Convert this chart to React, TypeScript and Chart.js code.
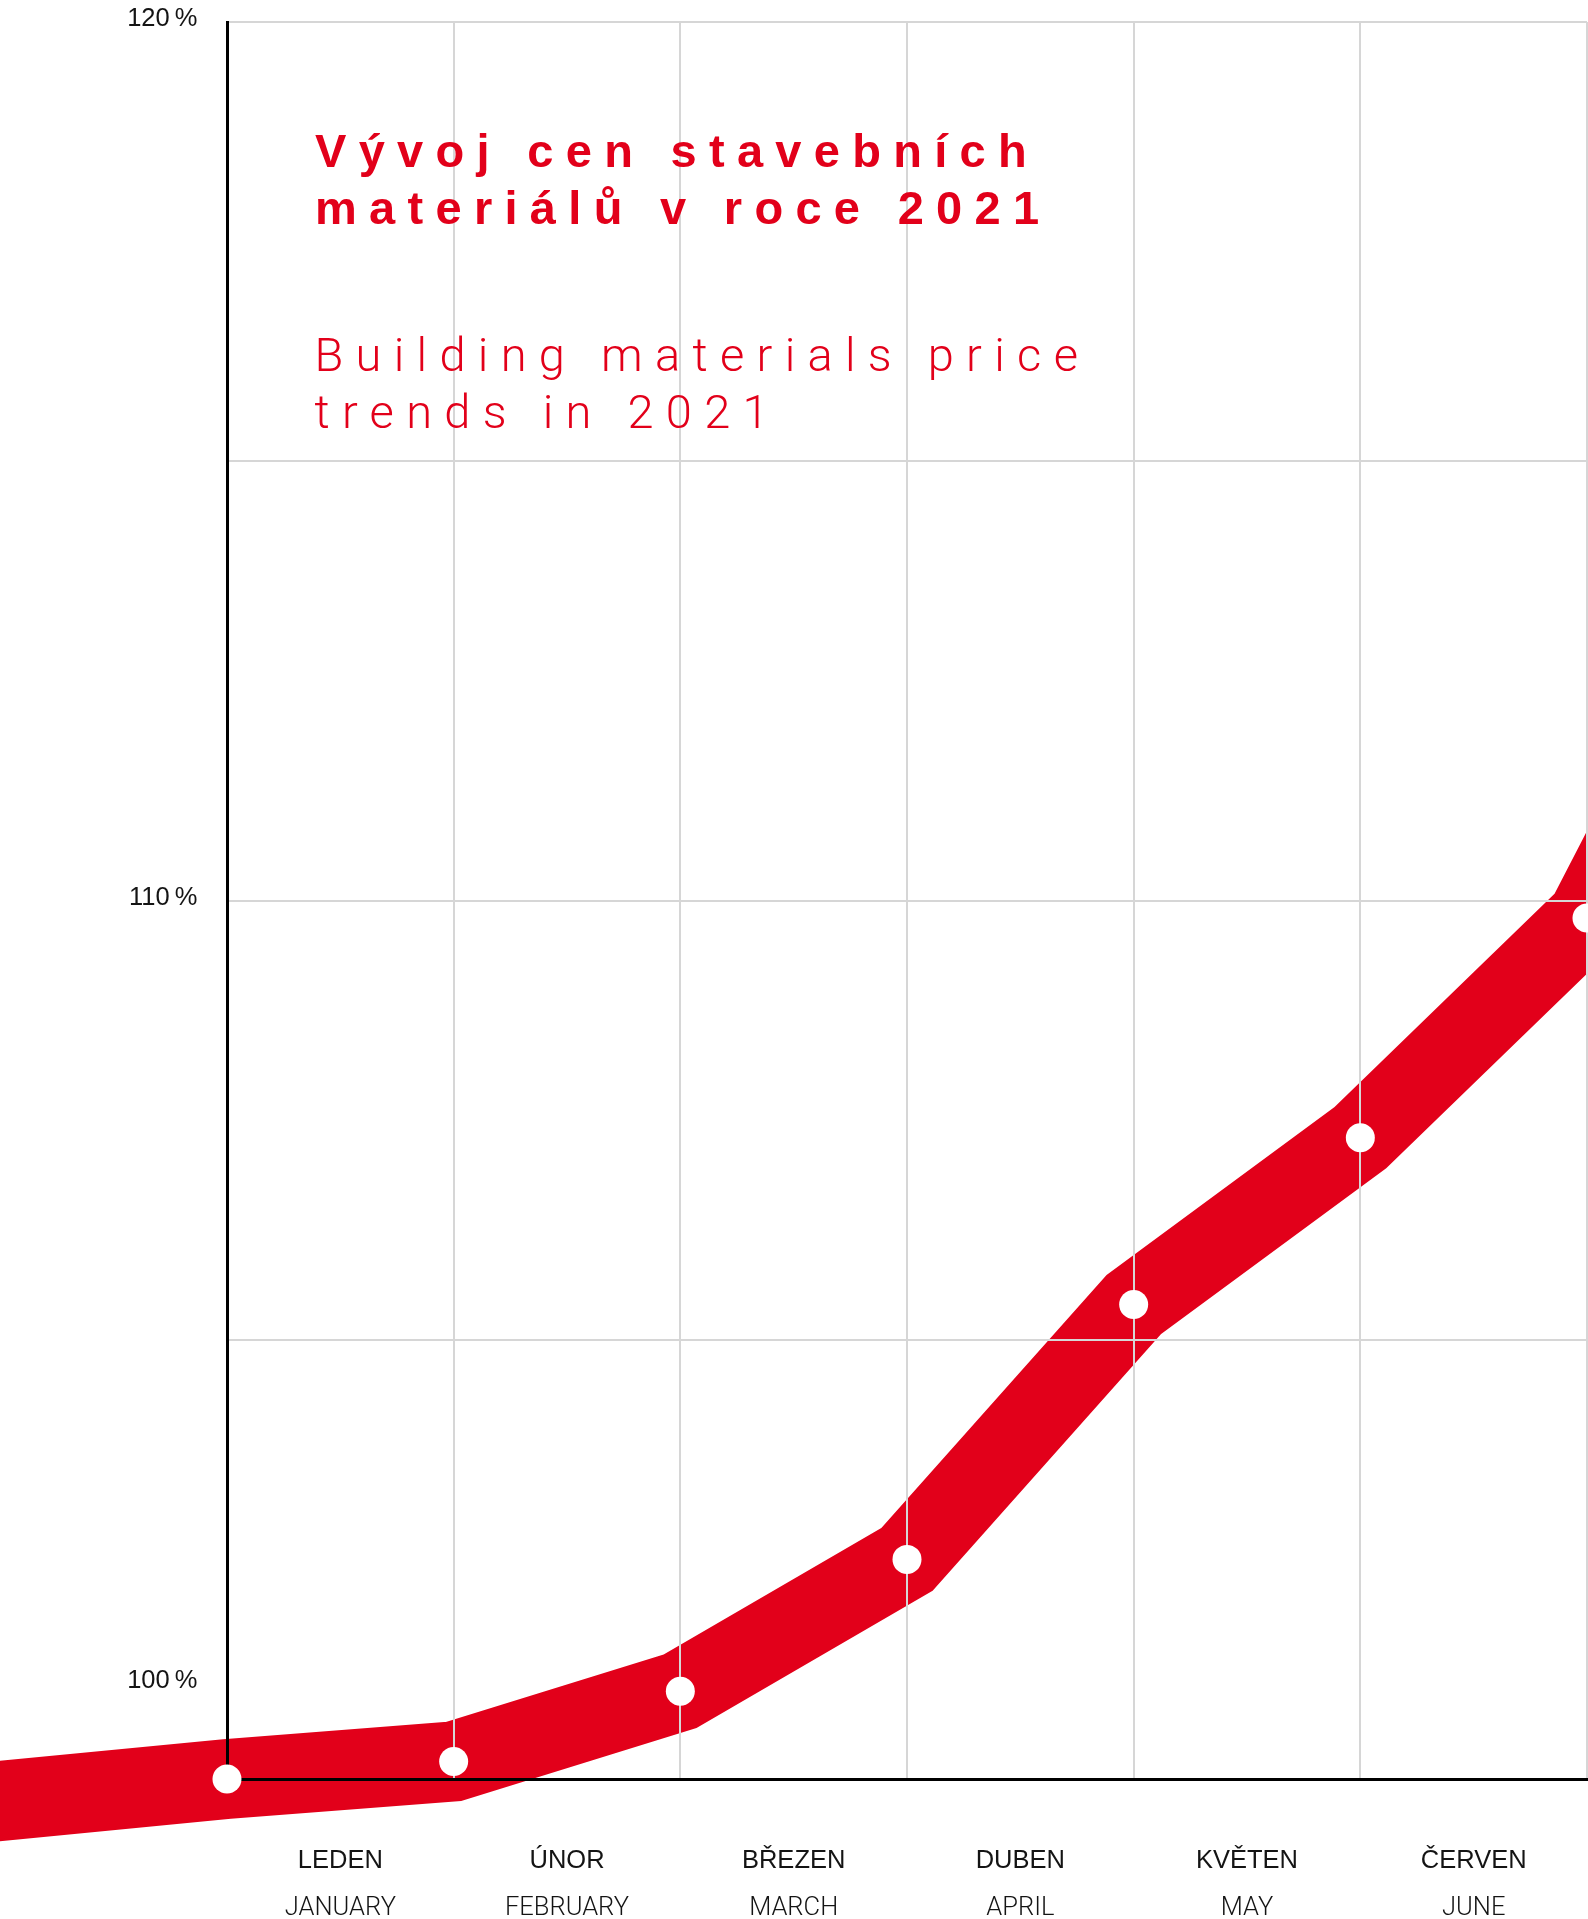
import React, { useEffect, useRef } from 'react';
import { Chart, registerables } from 'chart.js';

Chart.register(...registerables);

// ---- data -------------------------------------------------------------
// month index (Jan 2021 = 0); Dec 2020 and Aug 2021 continue the band off the page
const SERIES_X = [-1, 0, 1, 2, 3, 4, 5, 6, 7];
const SERIES_Y = [99.75, 100.0, 100.2, 101.0, 102.5, 105.4, 107.3, 109.8, 114.8];

// white markers (Jan … Jul)
const DOT_X = [0, 1, 2, 3, 4, 5, 6];
const DOT_Y = [100.0, 100.2, 101.0, 102.5, 105.4, 107.3, 109.8];

const MONTHS_CZ = ['LEDEN', 'ÚNOR', 'BŘEZEN', 'DUBEN', 'KVĚTEN', 'ČERVEN'];
const MONTHS_EN = ['JANUARY', 'FEBRUARY', 'MARCH', 'APRIL', 'MAY', 'JUNE'];

const Y_MIN = 100;
const Y_MAX = 120;
const Y_STEP = 5;
const Y_LABEL_VALUES = [120, 110, 100];

const TITLE_CZ = ['Vývoj cen stavebních', 'materiálů v roce 2021'];
const TITLE_EN = ['Building materials price', 'trends in 2021'];

// ---- styles -----------------------------------------------------------
const RED = '#e2001a';
const GRID = '#d6d6d6';
const INK = '#141414';
const SANS = '"Liberation Sans", Arial, Helvetica, sans-serif';
const LIGHT = 'Roboto, "Liberation Sans", Arial, sans-serif';

const noSidePadding = (s: any) => {
  s.paddingLeft = 0;
  s.paddingRight = 0;
};

const overlayPlugin = {
  id: 'overlay',
  afterDraw(chart: any) {
    const { ctx, chartArea, scales } = chart;
    const xs = scales.x;
    const ys = scales.y;
    ctx.save();
    // y-axis labels (the 100 % label is lifted above the band)
    ctx.font = `25.5px ${SANS}`;
    ctx.fillStyle = INK;
    ctx.textAlign = 'right';
    ctx.textBaseline = 'alphabetic';
    Y_LABEL_VALUES.forEach((v) => {
      const shift = v === Y_MIN ? -91 : 4;
      ctx.fillText(`${v}\u2009%`, chartArea.left - 29.5, ys.getPixelForValue(v) + shift);
    });
    // white markers on top of band and axes
    ctx.fillStyle = '#ffffff';
    DOT_X.forEach((xv, i) => {
      ctx.beginPath();
      ctx.arc(xs.getPixelForValue(xv), ys.getPixelForValue(DOT_Y[i]), 14.5, 0, Math.PI * 2);
      ctx.fill();
    });
    ctx.restore();
  },
};

export default function App() {
  const ref = useRef<HTMLCanvasElement>(null);

  useEffect(() => {
    document.body.style.margin = '0';
    document.body.style.overflow = 'hidden';
    const canvas = ref.current;
    if (!canvas) return;
    const chart = new Chart(canvas, {
      type: 'line',
      data: {
        datasets: [
          {
            data: SERIES_X.map((x, i) => ({ x, y: SERIES_Y[i] })),
            borderColor: RED,
            backgroundColor: RED,
            borderWidth: 80,
            borderJoinStyle: 'miter',
            borderCapStyle: 'square',
            pointRadius: 0,
            pointHoverRadius: 0,
            tension: 0,
            fill: false,
            clip: false as any,
            xAxisID: 'x',
            yAxisID: 'y',
          } as any,
        ],
      },
      options: {
        animation: false,
        responsive: false,
        events: [],
        layout: { padding: { top: 22, right: 1, left: 0, bottom: 0 } },
        plugins: {
          legend: { display: false },
          tooltip: { enabled: false },
          title: { display: false },
        },
        scales: {
          x: {
            type: 'linear',
            axis: 'x',
            position: 'bottom',
            weight: 0,
            afterDataLimits: (s: any) => {
              s.min = 0;
              s.max = 6;
            },
            ticks: { display: false, stepSize: 1 },
            grid: { color: GRID, lineWidth: 2, drawTicks: false, z: 1 },
            border: { display: true, color: '#000000', width: 3, z: 2 },
            afterFit: (s: any) => {
              s.height = 0;
              noSidePadding(s);
            },
          },
          xcz: {
            type: 'category',
            axis: 'x',
            labels: MONTHS_CZ,
            offset: true,
            position: 'bottom',
            weight: 1,
            grid: { display: false, drawTicks: false },
            border: { display: false },
            ticks: {
              color: INK,
              font: { family: SANS, size: 25.5 },
              padding: 67,
              autoSkip: false,
              maxRotation: 0,
            },
            afterFit: (s: any) => {
              s.height = 90;
              noSidePadding(s);
            },
          },
          xen: {
            type: 'category',
            axis: 'x',
            labels: MONTHS_EN,
            offset: true,
            position: 'bottom',
            weight: 2,
            grid: { display: false, drawTicks: false },
            border: { display: false },
            ticks: {
              color: INK,
              font: { family: LIGHT, size: 25.5, weight: '300' as any },
              padding: 24.5,
              autoSkip: false,
              maxRotation: 0,
            },
            afterFit: (s: any) => {
              s.height = 50;
              noSidePadding(s);
            },
          },
          y: {
            type: 'linear',
            position: 'left',
            min: Y_MIN,
            max: Y_MAX,
            ticks: { display: false, stepSize: Y_STEP },
            grid: { color: GRID, lineWidth: 2, drawTicks: false, z: 1 },
            border: { display: true, color: '#000000', width: 3, z: 2 },
            afterFit: (s: any) => {
              s.width = 227;
            },
          },
        } as any,
      },
      plugins: [overlayPlugin],
    });
    return () => chart.destroy();
  }, []);

  const czStyle: React.CSSProperties = {
    position: 'absolute',
    left: 315,
    top: 122,
    margin: 0,
    color: RED,
    fontFamily: SANS,
    fontWeight: 700,
    fontSize: 47,
    lineHeight: '57px',
    letterSpacing: '12.3px',
    whiteSpace: 'nowrap',
  };
  const enStyle: React.CSSProperties = {
    position: 'absolute',
    left: 314.5,
    top: 327,
    margin: 0,
    color: RED,
    fontFamily: LIGHT,
    fontWeight: 300,
    fontSize: 47,
    lineHeight: '56.7px',
    letterSpacing: '12.3px',
    whiteSpace: 'nowrap',
  };

  return (
    <div style={{ position: 'relative', width: 1588, height: 1919, overflow: 'hidden', background: '#fff' }}>
      <canvas ref={ref} width={1588} height={1919} style={{ display: 'block' }} />
      <div style={czStyle}>
        {TITLE_CZ.map((t) => (
          <div key={t}>{t}</div>
        ))}
      </div>
      <div style={enStyle}>
        {TITLE_EN.map((t) => (
          <div key={t}>{t}</div>
        ))}
      </div>
    </div>
  );
}
